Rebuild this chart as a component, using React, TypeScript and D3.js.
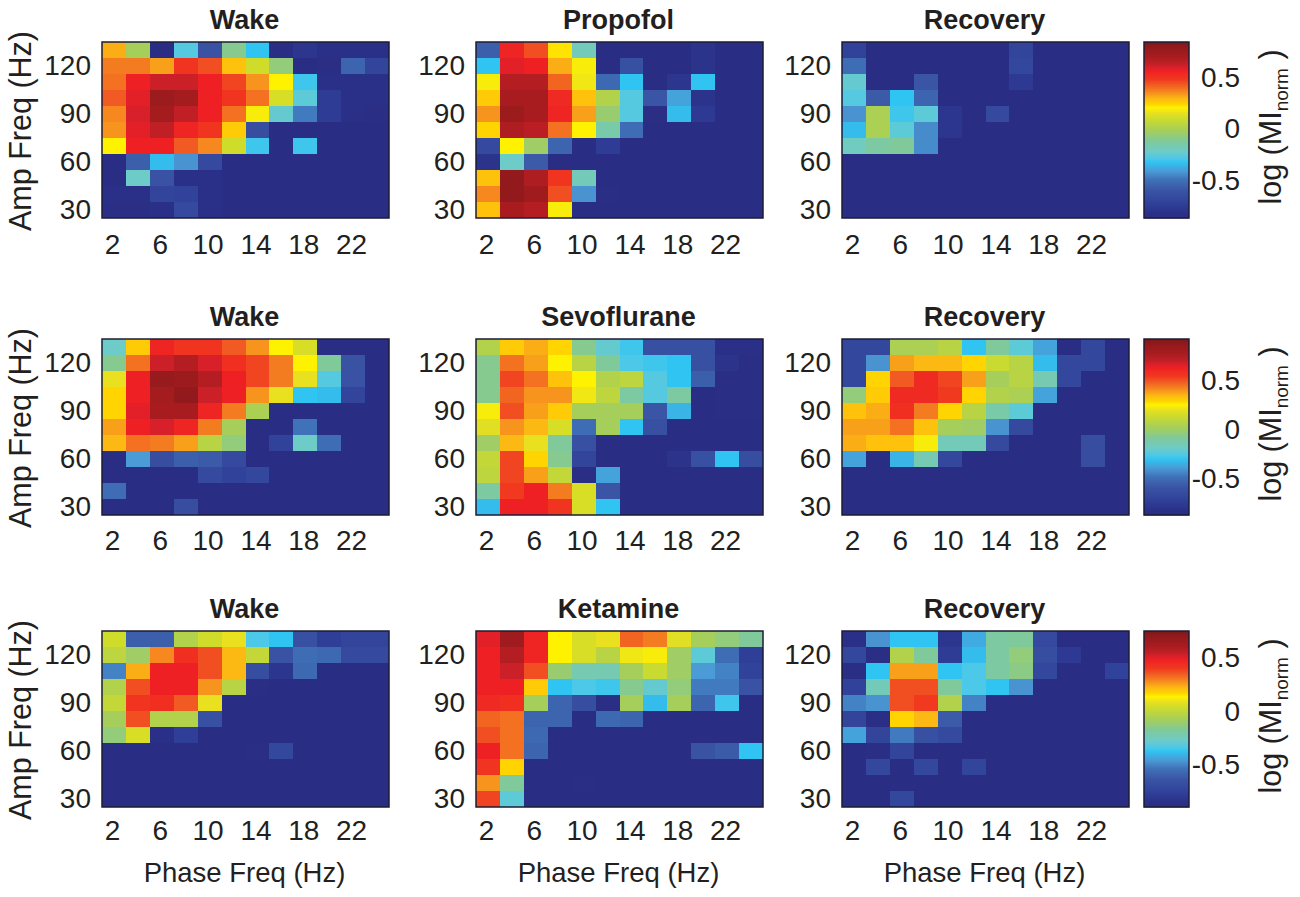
import React from "react";
import * as d3 from "d3";

// Colour position of each cell, 0 (bottom of the colour bar) to 100 (top). Rows run from 130 Hz down to 30 Hz.
const wakeA = [
  [69,50,0,35,15,45,32,1,5,2,2,2],
  [73,73,70,80,77,67,57,47,0,1,19,10],
  [74,84,87,87,84,78,71,63,33,3,3,3],
  [76,85,95,93,84,80,74,58,36,7,3,3],
  [72,86,93,88,84,74,62,37,23,7,3,1],
  [71,85,88,83,80,66,13,0,0,0,0,0],
  [63,84,84,76,72,57,33,0,33,0,0,0],
  [0,18,31,26,12,0,0,0,0,0,0,0],
  [0,38,15,2,2,0,0,0,0,0,0,0],
  [2,2,10,9,2,0,0,0,0,0,0,0],
  [1,1,2,12,2,0,0,0,0,0,0,0],
];
const propofol = [
  [18,83,77,64,40,0,0,0,0,4,0,0],
  [32,85,84,69,62,0,14,0,0,4,0,0],
  [62,90,90,75,61,20,32,0,5,32,0,0],
  [66,92,92,82,67,52,35,16,28,4,0,0],
  [71,95,92,83,70,48,35,1,31,6,0,0],
  [65,91,89,74,63,42,21,0,0,0,0,0],
  [12,63,49,19,0,7,0,0,0,0,0,0],
  [4,38,17,0,0,0,0,0,0,0,0,0],
  [67,97,91,80,40,0,0,0,0,0,0,0],
  [72,97,94,77,26,1,0,0,0,0,0,0],
  [67,92,90,62,0,0,0,0,0,0,0,0],
];
const recoveryA = [
  [9,0,0,0,0,0,0,10,0,0,0,0],
  [21,0,0,0,0,0,0,11,0,0,0,0],
  [37,0,0,16,0,0,0,6,0,0,0,0],
  [35,17,32,19,0,0,0,0,0,0,0,0],
  [26,51,33,36,5,0,12,0,0,0,0,0],
  [31,51,36,25,5,0,0,0,0,0,0,0],
  [39,43,44,25,0,0,0,0,0,0,0,0],
  [0,0,0,0,0,0,0,0,0,0,0,0],
  [0,0,0,0,0,0,0,0,0,0,0,0],
  [0,0,0,0,0,0,0,0,0,0,0,0],
  [0,0,0,0,0,0,0,0,0,0,0,0],
];
const wakeB = [
  [38,66,83,80,80,76,71,63,58,0,0,0],
  [45,74,87,90,86,81,78,73,63,44,15,0],
  [60,84,96,95,90,84,78,73,60,35,15,0],
  [65,84,93,97,87,84,71,60,32,31,10,0],
  [65,85,92,92,83,73,51,0,0,0,0,0],
  [70,84,86,83,73,50,0,0,22,0,0,0],
  [68,74,73,70,53,47,0,9,38,21,0,0],
  [0,27,13,18,17,12,0,0,0,0,0,0],
  [0,0,0,0,12,9,11,0,0,0,0,0],
  [21,0,0,0,0,0,0,0,0,0,0,0],
  [0,0,0,13,0,0,0,0,0,0,0,0],
];
const sevoflurane = [
  [52,66,69,65,45,37,33,14,14,14,2,2],
  [45,74,70,63,53,44,34,33,32,14,4,1],
  [45,78,74,67,63,52,54,35,32,18,1,1],
  [45,75,71,71,61,54,43,35,43,0,1,1],
  [62,77,70,66,50,50,50,16,30,0,1,1],
  [59,71,68,58,21,50,32,14,0,0,0,0],
  [49,68,60,44,14,0,0,0,0,0,0,0],
  [55,78,65,45,10,0,0,0,4,14,32,13],
  [54,78,70,55,1,28,0,0,0,0,0,0],
  [43,79,84,73,58,16,0,0,0,0,0,0],
  [31,84,84,80,58,32,0,0,0,0,0,0],
];
const recoveryB = [
  [11,11,51,51,53,32,44,36,28,0,11,0],
  [11,26,70,68,68,65,56,53,31,11,11,0],
  [11,65,76,82,78,70,50,53,41,11,0,0],
  [47,66,82,82,79,65,52,51,28,0,0,0],
  [67,69,81,73,65,53,42,36,0,0,0,0],
  [70,70,74,67,50,49,26,12,0,0,0,0],
  [69,67,67,62,40,40,12,0,0,0,13,0],
  [28,0,30,41,11,0,0,0,0,0,13,0],
  [0,0,0,0,0,0,0,0,0,0,0,0],
  [0,0,0,0,0,0,0,0,0,0,0,0],
  [0,0,0,0,0,0,0,0,0,0,0,0],
];
const wakeC = [
  [57,18,18,52,57,60,34,32,14,8,10,10],
  [54,49,72,81,77,68,55,15,21,20,12,12],
  [24,69,84,84,77,68,13,5,20,0,0,0],
  [52,77,84,84,71,53,1,0,0,0,0,0],
  [55,80,81,76,60,0,0,0,0,0,0,0],
  [50,77,52,52,14,0,0,0,0,0,0,0],
  [47,58,2,8,0,0,0,0,0,0,0,0],
  [0,0,0,0,0,0,1,11,0,0,0,0],
  [0,0,0,0,0,0,0,0,0,0,0,0],
  [0,0,0,0,0,0,0,0,0,0,0,0],
  [0,0,0,0,0,0,0,0,0,0,0,0],
];
const ketamine = [
  [85,94,83,63,58,60,75,73,59,50,47,44],
  [84,90,83,63,58,53,61,62,49,36,21,8],
  [84,87,77,48,41,41,50,56,49,27,24,9],
  [84,84,66,32,34,33,45,37,47,23,23,15],
  [82,81,50,19,13,1,50,31,50,19,33,0],
  [75,74,19,19,0,20,19,0,0,0,0,0],
  [77,74,20,0,0,0,0,0,0,0,0,0],
  [84,74,19,0,0,0,0,0,0,15,17,32],
  [80,65,0,0,0,0,0,0,0,0,0,0],
  [71,44,0,0,1,0,0,0,0,0,0,0],
  [78,36,0,0,0,0,0,0,0,0,0,0],
];
const recoveryC = [
  [3,26,32,32,5,29,43,44,12,0,0,0],
  [11,1,52,44,7,31,43,47,13,6,0,0],
  [1,32,70,70,32,34,43,46,11,0,0,9],
  [9,40,77,77,44,34,32,26,0,0,0,0],
  [24,26,77,79,52,24,0,0,0,0,0,0],
  [10,1,65,68,17,0,0,0,0,0,0,0],
  [28,10,23,14,12,0,0,0,0,0,0,0],
  [0,1,10,0,0,0,0,0,0,0,0,0],
  [0,11,0,11,0,10,0,0,0,0,0,0],
  [0,0,0,0,0,0,0,0,0,0,0,0],
  [0,0,11,0,0,0,0,0,0,0,0,0],
];

const phaseFreqs = [2,4,6,8,10,12,14,16,18,20,22,24];
const ampFreqs = [130,120,110,100,90,80,70,60,50,40,30];
const phaseTicks = [2,6,10,14,18,22];
const ampTicks = [30,60,90,120];
const barTicks = [0.5,0,-0.5];
const rowTitles = [
  ["Wake","Propofol","Recovery"],
  ["Wake","Sevoflurane","Recovery"],
  ["Wake","Ketamine","Recovery"],
];
const rowData = [
  [wakeA,propofol,recoveryA],
  [wakeB,sevoflurane,recoveryB],
  [wakeC,ketamine,recoveryC],
];
const barDomains: [number,number][] = [[-0.864,0.845],[-0.86,0.92],[-0.888,0.757]];

const colourStops: [number,string][] = [
  [0,"#2a2d84"],[3,"#2a3088"],[8,"#2f3f98"],[16,"#3a55a5"],[22,"#3f72b8"],[27,"#4a9bd6"],
  [32,"#2fc4f2"],[34,"#4cc8e8"],[38,"#6dcbc8"],[44,"#7fc99a"],[50,"#a6ce5a"],[57,"#cfdc2a"],
  [60,"#e9e11f"],[63,"#fff200"],[65,"#ffd400"],[68,"#fdb913"],[71,"#f7941d"],[73,"#f47c20"],
  [76,"#f15a22"],[79,"#f1391f"],[84,"#ee2024"],[86,"#d8202a"],[88,"#c01f26"],[92,"#a81c1f"],
  [98,"#8f1a1b"],[100,"#7a1a1a"],
];
const colour = d3.scaleLinear<string>()
  .domain(colourStops.map(d => d[0]))
  .range(colourStops.map(d => d[1]))
  .interpolate(d3.interpolateRgb)
  .clamp(true);

const colLefts = [102,476,842];
const rowTops = [42,339,631];
const tickDrops = [36,35,33];
const plotW = 287;
const plotH = 176;
const barX = 1144;
const barW = 45;
const font = "'Liberation Sans', Arial, sans-serif";
const ink = "#231f20";
const frame = "#1d1d35";

function Panel({data,title,x0,y0,left,bottom,drop}:{data:number[][];title:string;x0:number;y0:number;left:boolean;bottom:boolean;drop:number}) {
  const x = d3.scaleBand<number>().domain(phaseFreqs).range([x0,x0+plotW]);
  const y = d3.scaleBand<number>().domain(ampFreqs).range([y0,y0+plotH]);
  return (
    <g fontFamily={font} fill={ink}>
      {data.map((row,r)=>row.map((v,c)=>(
        <rect key={`${r}-${c}`} x={x(phaseFreqs[c])} y={y(ampFreqs[r])} width={x.bandwidth()+0.4} height={y.bandwidth()+0.4} fill={colour(v)} shapeRendering="crispEdges" />
      )))}
      <rect x={x0} y={y0} width={plotW} height={plotH} fill="none" stroke={frame} strokeWidth={1.5} />
      <text x={x0+plotW/2-1} y={y0-13} textAnchor="middle" fontSize={27} fontWeight="bold">{title}</text>
      {phaseTicks.map(t=>(
        <text key={t} x={x(t)!+x.bandwidth()/2-1.5} y={y0+plotH+drop} textAnchor="middle" fontSize={28}>{t}</text>
      ))}
      {ampTicks.map(t=>(
        <text key={t} x={x0-11} y={y(t)!+y.bandwidth()/2+9} textAnchor="end" fontSize={28}>{t}</text>
      ))}
      {left && <text transform={`translate(31,${y0+plotH/2+1}) rotate(-90)`} textAnchor="middle" fontSize={30.5}>Amp Freq (Hz)</text>}
      {bottom && <text x={x0+plotW/2-1} y={y0+plotH+75} textAnchor="middle" fontSize={27.5}>Phase Freq (Hz)</text>}
    </g>
  );
}

function ColourBar({y0,domain}:{y0:number;domain:[number,number]}) {
  const y = d3.scaleLinear().domain(domain).range([y0+plotH,y0]);
  const lv = d3.scaleLinear().domain([0,plotH]).range([100,0]);
  return (
    <g fontFamily={font} fill={ink}>
      {d3.range(0,plotH).map(i=>(
        <rect key={i} x={barX} y={y0+i} width={barW} height={1.4} fill={colour(lv(i))} />
      ))}
      <rect x={barX} y={y0} width={barW} height={plotH} fill="none" stroke={frame} strokeWidth={1.5} />
      {barTicks.map(t=>(
        <text key={t} x={1240} y={y(t)+9} textAnchor="end" fontSize={28}>{t}</text>
      ))}
      <text transform={`translate(1281,${y0+plotH/2-3}) rotate(-90)`} textAnchor="middle" fontSize={30.5}>
        log (MI<tspan fontSize={19} dy={7}>norm</tspan><tspan dy={-7}> )</tspan>
      </text>
    </g>
  );
}

export default function App() {
  return (
    <svg width={1300} height={897} style={{position:"absolute",left:0,top:0,display:"block",background:"#fff"}}>
      {rowData.map((row,r)=>(
        <g key={r}>
          {row.map((d,c)=>(
            <Panel key={c} data={d} title={rowTitles[r][c]} x0={colLefts[c]} y0={rowTops[r]} left={c===0} bottom={r===2} drop={tickDrops[r]} />
          ))}
          <ColourBar y0={rowTops[r]} domain={barDomains[r]} />
        </g>
      ))}
    </svg>
  );
}
